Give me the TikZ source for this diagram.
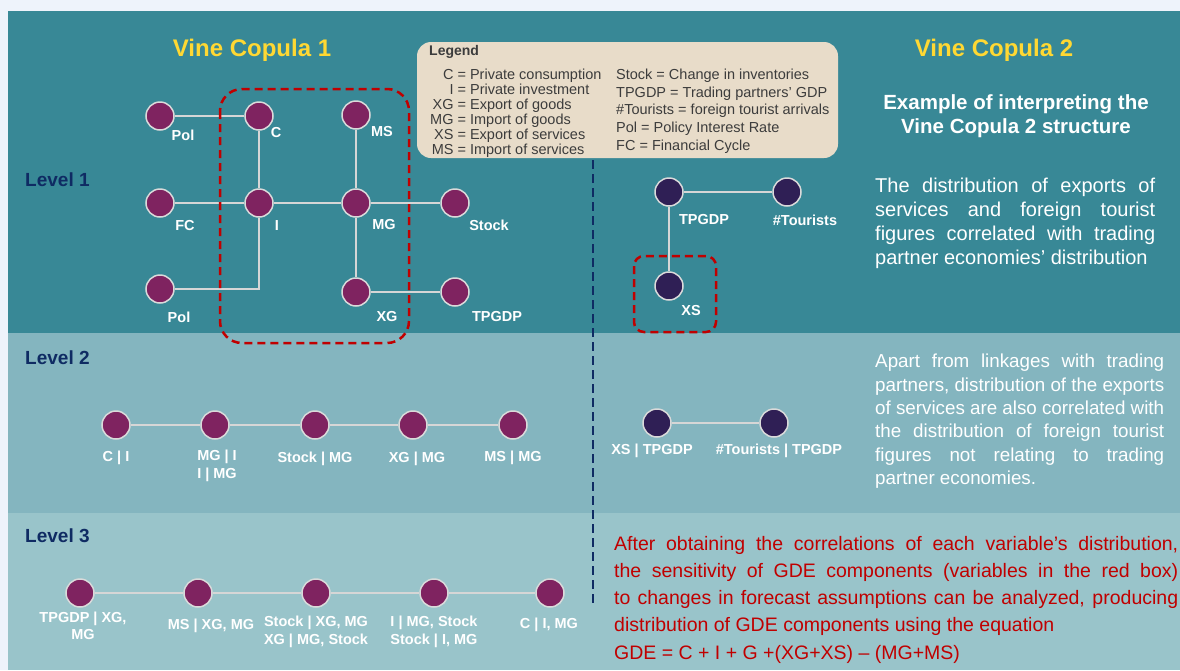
\documentclass[tikz,border=0pt]{standalone}
\usepackage{fontspec}
\setmainfont{Liberation Sans}

\definecolor{pagebg}{HTML}{EEF3FB}
\definecolor{bandA}{HTML}{388896}
\definecolor{bandB}{HTML}{84B5BF}
\definecolor{bandC}{HTML}{99C4CA}
\definecolor{vinepurple}{HTML}{7F2360}
\definecolor{vinedark}{HTML}{2F1F55}
\definecolor{ringgrey}{HTML}{DADADA}
\definecolor{linkgrey}{HTML}{D6D6D6}
\definecolor{titleyellow}{HTML}{FFD833}
\definecolor{levelnavy}{HTML}{0F2B63}
\definecolor{boxred}{HTML}{C00000}
\definecolor{legendbg}{HTML}{E8DCC9}
\definecolor{legendtext}{HTML}{3C3C3C}

\begin{document}
\begin{tikzpicture}[x=1pt, y=-1pt,
    varnode/.style={circle, draw=ringgrey, line width=1.5pt, fill=vinepurple, minimum size=28pt, inner sep=0pt},
    varnodeB/.style={varnode, fill=vinedark},
    linkline/.style={linkgrey, line width=2.5pt},
    lbl/.style={text=white, font=\fontsize{14.5}{17.5}\selectfont\bfseries, inner sep=0pt, align=center},
    lvl/.style={text=levelnavy, font=\fontsize{19}{22}\selectfont\bfseries, anchor=west, inner sep=0pt},
    copulatitle/.style={text=titleyellow, font=\fontsize{24}{28}\selectfont\bfseries, inner sep=0pt},
    redbox/.style={boxred, line width=2.5pt, dash pattern=on 8pt off 5pt},
    para/.style={anchor=north west, inner sep=0pt, align=left}]

\useasboundingbox (0,0) rectangle (1180,670);
\fill[pagebg] (0,0) rectangle (1180,670);
\fill[bandA] (8,11) rectangle (1180,333);
\fill[bandB] (8,333) rectangle (1180,513);
\fill[bandC] (8,513) rectangle (1180,670);

\node[copulatitle] (vcA) at (252,50) {Vine Copula 1};
\node[copulatitle] (vcB) at (994,50) {Vine Copula 2};

\node[lvl] (lvlA) at (25,180) {Level 1};
\node[lvl] (lvlB) at (25,358) {Level 2};
\node[lvl] (lvlC) at (25,536) {Level 3};

% legend
\node[fill=legendbg, rounded corners=14pt, minimum width=421pt, minimum height=116pt, inner sep=0pt] (legend) at (627.5,100) {};
\node[anchor=west, inner sep=0pt, text=legendtext, font=\fontsize{14}{16}\selectfont\bfseries] (legendhead) at (429,52) {Legend};
\node[anchor=north west, inner sep=0pt, text=legendtext, font=\fontsize{14.5}{14.6}\selectfont] (legendL) at (430,69)
  {\begin{tabular}{@{}r@{ = }l@{}}
   C & Private consumption\\
   I & Private investment\\
   XG & Export of goods\\
   MG & Import of goods\\
   XS & Export of services\\
   MS & Import of services
   \end{tabular}};
\node[para, text=legendtext, font=\fontsize{14.5}{17.8}\selectfont] (legendR) at (616,68.6)
  {Stock = Change in inventories\\
   TPGDP = Trading partners’ GDP\\
   \#Tourists = foreign tourist arrivals\\
   Pol = Policy Interest Rate\\
   FC = Financial Cycle};

\draw[levelnavy, line width=2.2pt, dash pattern=on 9pt off 5pt] (593,160) -- (593,606);

% level 1, copula 1
\node[varnode] (polA) at (160,116) {};
\node[varnode] (c) at (259,116) {};
\node[varnode] (ms) at (356,115) {};
\node[varnode] (fc) at (160,203) {};
\node[varnode] (i) at (259,203) {};
\node[varnode] (mg) at (356,203) {};
\node[varnode] (stock) at (455,203) {};
\node[varnode] (polB) at (160,289) {};
\node[varnode] (xg) at (356,292) {};
\node[varnode] (tpgdp) at (455,292) {};

\draw[linkline] (polA) -- (c);
\draw[linkline] (c) -- (i);
\draw[linkline] (fc) -- (i);
\draw[linkline] (i) -- (mg);
\draw[linkline] (mg) -- (stock);
\draw[linkline] (ms) -- (mg);
\draw[linkline] (mg) -- (xg);
\draw[linkline] (xg) -- (tpgdp);
\draw[linkline] (polB) -| (i);

\node[lbl] (polA-l) at (183,135) {Pol};
\node[lbl] (c-l) at (276,133) {C};
\node[lbl] (ms-l) at (382,132) {MS};
\node[lbl] (fc-l) at (185,226) {FC};
\node[lbl] (i-l) at (277,226) {I};
\node[lbl] (mg-l) at (384,225) {MG};
\node[lbl] (stock-l) at (489,225) {Stock};
\node[lbl] (polB-l) at (179,317) {Pol};
\node[lbl] (xg-l) at (387,317) {XG};
\node[lbl] (tpgdp-l) at (497,317) {TPGDP};

\draw[redbox, rounded corners=22pt] (220,89) rectangle (409,343);

% level 2 and 3, copula 1
\node[varnode] (ciA) at (116,425) {};
\node[varnode] (ciB) at (215,425) {};
\node[varnode] (ciC) at (315,425) {};
\node[varnode] (ciD) at (413,425) {};
\node[varnode] (ciE) at (513,425) {};
\foreach \a/\b in {ciA/ciB, ciB/ciC, ciC/ciD, ciD/ciE}
  \draw[linkline] (\a) -- (\b);

\node[lbl] (ciA-l) at (116,458) {C | I};
\node[lbl] (ciB-l) at (217,466) {MG | I\\I | MG};
\node[lbl] (ciC-l) at (315,459) {Stock | MG};
\node[lbl] (ciD-l) at (417,459) {XG | MG};
\node[lbl] (ciE-l) at (513,458) {MS | MG};

\node[varnode] (cjA) at (80,593) {};
\node[varnode] (cjB) at (198,593) {};
\node[varnode] (cjC) at (316,593) {};
\node[varnode] (cjD) at (434,593) {};
\node[varnode] (cjE) at (550,593) {};
\foreach \a/\b in {cjA/cjB, cjB/cjC, cjC/cjD, cjD/cjE}
  \draw[linkline] (\a) -- (\b);

\node[lbl] (cjA-l) at (83,626) {TPGDP | XG,\\MG};
\node[lbl] (cjB-l) at (211,626) {MS | XG, MG};
\node[lbl] (cjC-l) at (316,632) {Stock | XG, MG\\XG | MG, Stock};
\node[lbl] (cjD-l) at (434,632) {I | MG, Stock\\Stock | I, MG};
\node[lbl] (cjE-l) at (549,625) {C | I, MG};

% copula 2
\node[varnodeB] (tpgdpB) at (669,192) {};
\node[varnodeB] (tour) at (787,192) {};
\node[varnodeB] (xs) at (669,286) {};
\draw[linkline] (tpgdpB) -- (tour);
\draw[linkline] (tpgdpB) -- (xs);
\node[lbl] (tpgdpB-l) at (704,220) {TPGDP};
\node[lbl] (tour-l) at (805,220) {\#Tourists};
\node[lbl] (xs-l) at (691,311) {XS};
\draw[redbox, rounded corners=10pt] (634,256) rectangle (716,332);

\node[varnodeB] (xstp) at (657,423) {};
\node[varnodeB] (tourtp) at (774,423) {};
\draw[linkline] (xstp) -- (tourtp);
\node[lbl] (xstp-l) at (652,451) {XS | TPGDP};
\node[lbl] (tourtp-l) at (779,451) {\#Tourists | TPGDP};

% text
\node[text=white, inner sep=0pt, align=center, font=\fontsize{20.5}{24}\selectfont\bfseries] (example) at (1016,116)
  {Example of interpreting the\\Vine Copula 2 structure};

\node[para, text=white, font=\fontsize{20}{24}\selectfont] (noteA) at (875,178)
  {\makebox[280pt][s]{The distribution of exports of}\\
   \makebox[280pt][s]{services and foreign tourist}\\
   \makebox[280pt][s]{figures correlated with trading}\\
   partner economies’ distribution};

\node[para, text=white, font=\fontsize{18.8}{23.3}\selectfont] (noteB) at (875,354)
  {\makebox[289pt][s]{Apart from linkages with trading}\\
   \makebox[289pt][s]{partners, distribution of the exports}\\
   \makebox[289pt][s]{of services are also correlated with}\\
   \makebox[289pt][s]{the distribution of foreign tourist}\\
   \makebox[289pt][s]{figures not relating to trading}\\
   partner economies.};

\node[para, text=boxred, font=\fontsize{19.5}{27.2}\selectfont] (noteC) at (614,536)
  {\makebox[564pt][s]{After obtaining the correlations of each variable’s distribution,}\\
   \makebox[564pt][s]{the sensitivity of GDE components (variables in the red box)}\\
   \makebox[564pt][s]{to changes in forecast assumptions can be analyzed, producing}\\
   distribution of GDE components using the equation\\
   GDE = C + I + G +(XG+XS) – (MG+MS)};

\end{tikzpicture}
\end{document}
